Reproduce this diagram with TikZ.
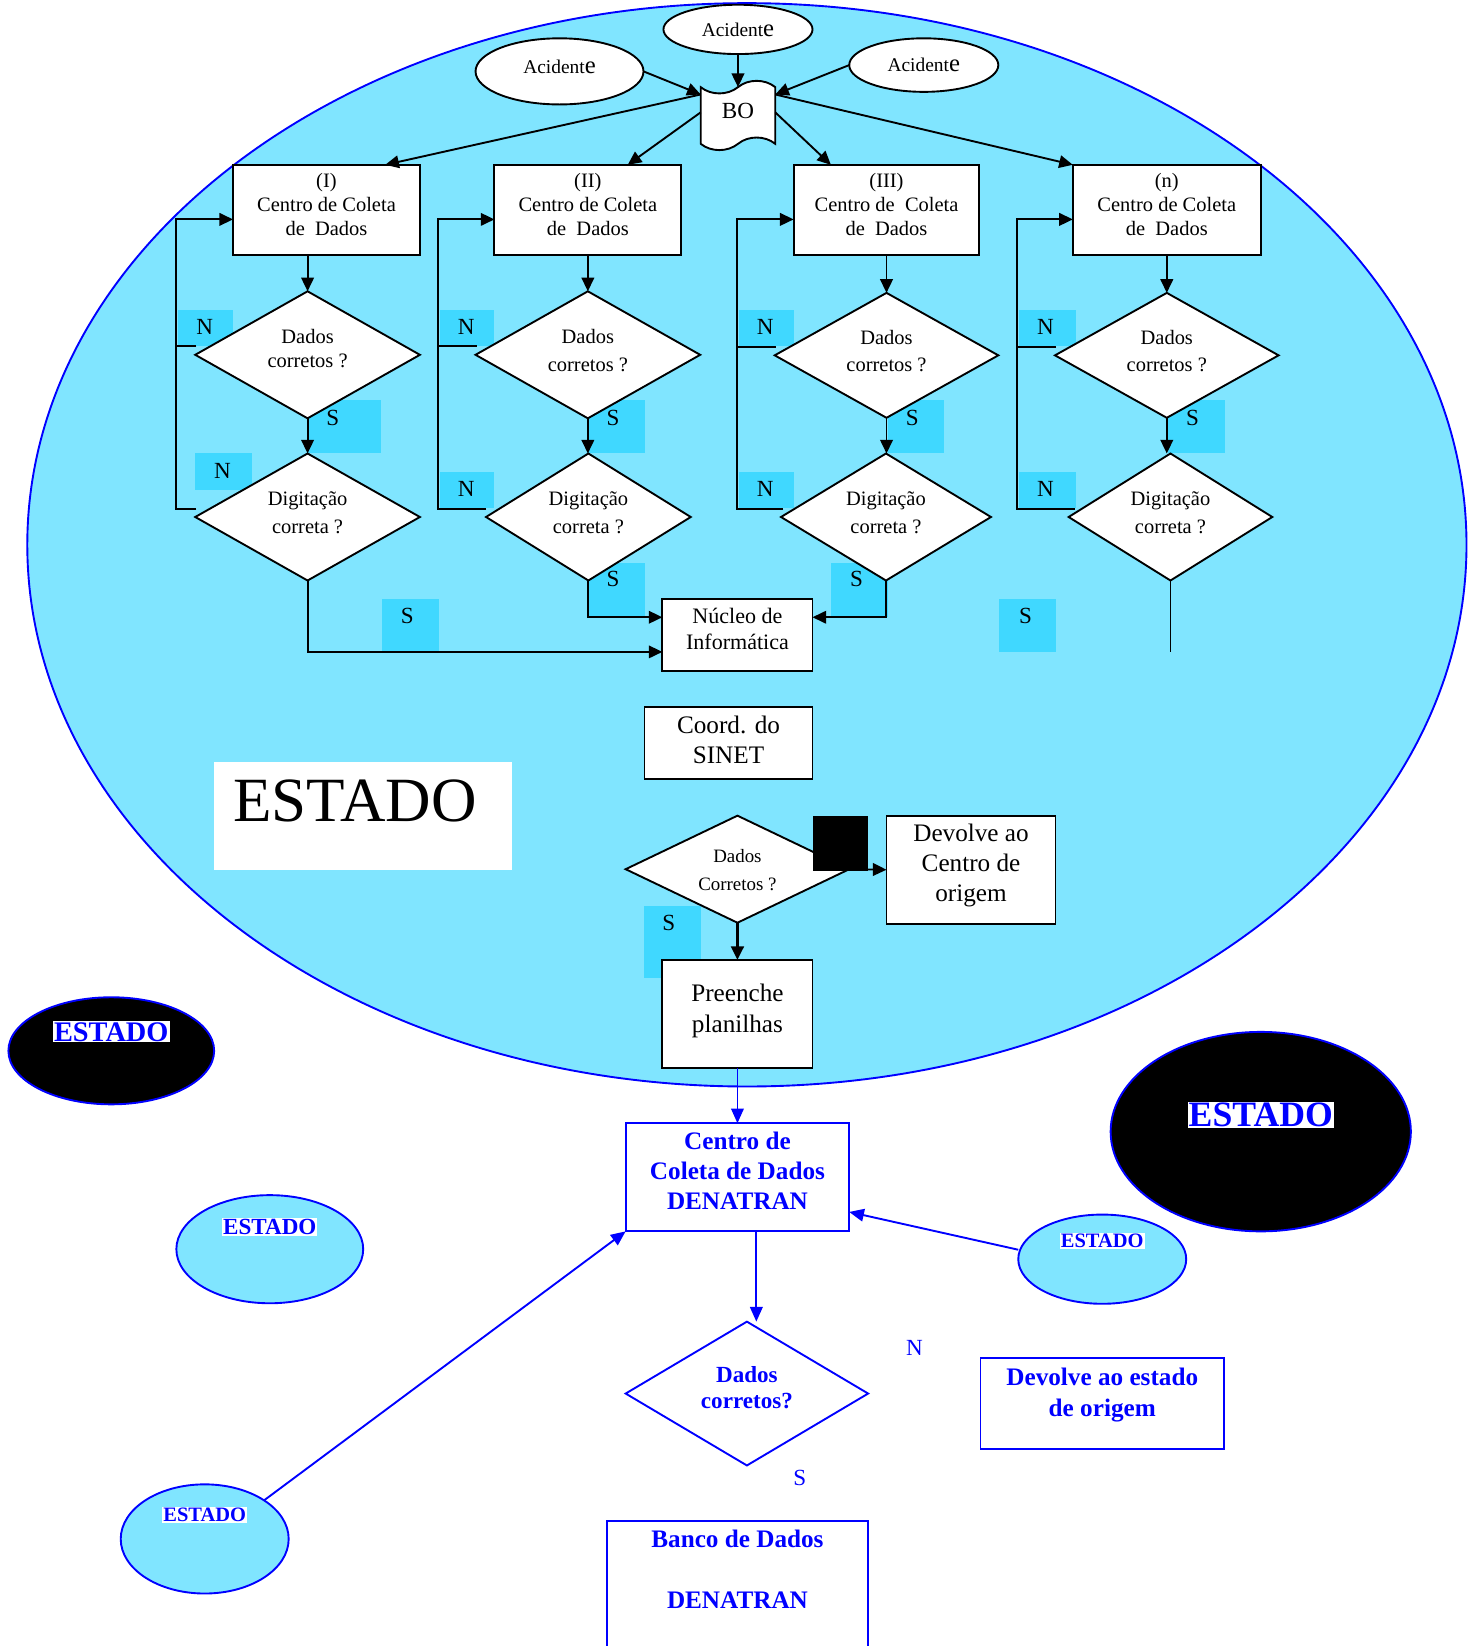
\documentclass[tikz,border=0pt]{standalone}
\usepackage{fontspec}
\setmainfont{Liberation Serif}
\usetikzlibrary{arrows.meta,shapes.geometric,shapes.symbols,calc}
\definecolor{lcyan}{RGB}{128,229,255}
\definecolor{dcyan}{RGB}{64,216,255}
\definecolor{pblue}{RGB}{0,0,255}
\pgfdeclarelayer{bgg}
\pgfdeclarelayer{bg}
\pgfsetlayers{bgg,bg,main}
\newcommand{\fs}[2]{\fontsize{#1}{#2}\selectfont}
\newcommand{\acidtxt}{\fs{18.5}{22}Acident{\fs{23.5}{23}e}}
% text node placed relative to a shape node: name, dy, font, text
\newcommand{\intext}[4]{\node[align=center, font=#3] (#1t) at ($(#1)+(0,#2)$) {#4};}
\begin{document}
\begin{tikzpicture}[x=1pt,y=-1pt,
  every node/.style={inner sep=0pt, outer sep=0pt},
  ln/.style={line width=1.8pt, draw=black},
  arr/.style={ln, -{Triangle[length=13pt,width=12pt]}},
  barr/.style={line width=1.8pt, draw=pblue, -{Triangle[length=14pt,width=12pt]}},
  wbox/.style={rectangle, draw=black, fill=white, line width=1.8pt},
  wdia/.style={diamond, aspect=1.8, draw=black, fill=white, line width=1.8pt},
  acc/.style={ellipse, draw=black, fill=white, line width=1.8pt},
  cyanbox/.style={rectangle, fill=dcyan, anchor=north west},
  lbl/.style={font=\fs{22}{22}},
  bbox/.style={rectangle, draw=pblue, line width=1.8pt, fill=white},
  estlbl/.style={fill=white, text=pblue, inner sep=1pt},
  cyanell/.style={ellipse, draw=pblue, fill=lcyan, line width=1.8pt},
  blkell/.style={ellipse, draw=pblue, fill=black, line width=1.8pt},
]
\useasboundingbox (0,0) rectangle (1407,1568);
\clip (0,0) rectangle (1407,1568);

\begin{pgfonlayer}{bgg}
\node[ellipse, draw=pblue, fill=lcyan, line width=1.8pt, minimum width=1371, minimum height=1032] (state) at (711.5,519) {};
\end{pgfonlayer}

\begin{pgfonlayer}{bg}
% column I
\node[cyanbox, minimum width=52, minimum height=35] (cn1a) at (170,295) {};
\node[cyanbox, minimum width=70, minimum height=51] (cs1a) at (293,381) {};
\node[cyanbox, minimum width=54, minimum height=35] (cn1b) at (186,432) {};
\node[cyanbox, minimum width=54, minimum height=50] (cs1b) at (364,571) {};
% column II
\node[cyanbox, minimum width=52, minimum height=35] (cn2a) at (419,295) {};
\node[cyanbox, minimum width=54, minimum height=51] (cs2a) at (560,381) {};
\node[cyanbox, minimum width=52, minimum height=34] (cn2b) at (419,450) {};
\node[cyanbox, minimum width=54, minimum height=52] (cs2b) at (560,536) {};
% column III
\node[cyanbox, minimum width=53, minimum height=35] (cn3a) at (703.5,295) {};
\node[cyanbox, minimum width=54, minimum height=51] (cs3a) at (845.5,381) {};
\node[cyanbox, minimum width=53, minimum height=34] (cn3b) at (703.5,450) {};
\node[cyanbox, minimum width=54, minimum height=52] (cs3b) at (791.6,536) {};
% column n
\node[cyanbox, minimum width=54, minimum height=35] (cn4a) at (970.6,295) {};
\node[cyanbox, minimum width=54, minimum height=51] (cs4a) at (1112.6,381) {};
\node[cyanbox, minimum width=54, minimum height=34] (cn4b) at (970.6,450) {};
\node[cyanbox, minimum width=54, minimum height=50] (cs4b) at (952,571) {};
% lower S
\node[cyanbox, minimum width=54, minimum height=69] (cs5) at (613.5,863) {};
\end{pgfonlayer}

% accidents and BO
\node[acc, minimum width=142, minimum height=47] (ac1) at (703,28) {};
\intext{ac1}{0}{}{\acidtxt}
\node[acc, minimum width=160, minimum height=63] (ac2) at (533,68) {};
\intext{ac2}{-4}{}{\acidtxt}
\node[acc, minimum width=142, minimum height=51] (ac3) at (880,62) {};
\intext{ac3}{0}{}{\acidtxt}
\node[tape, draw=black, fill=white, line width=1.8pt, minimum width=71, minimum height=66, tape bend height=12pt] (bo) at (703,110) {};
\intext{bo}{-4}{\fs{22}{22}}{BO}

% collection centres
\node[wbox, minimum width=178, minimum height=86] (b1) at (311,200) {};
\intext{b1}{-5.5}{\fs{19.5}{23}}{(I)\\Centro de Coleta\\de\ \ Dados}
\node[wbox, minimum width=178, minimum height=86] (b2) at (560,200) {};
\intext{b2}{-5.5}{\fs{19.5}{23}}{(II)\\Centro de Coleta\\de\ \ Dados}
\node[wbox, minimum width=177, minimum height=86] (b3) at (844.5,200) {};
\intext{b3}{-5.5}{\fs{19.5}{23}}{(III)\\Centro de\ \ Coleta\\de\ \ Dados}
\node[wbox, minimum width=179, minimum height=86] (b4) at (1111.5,200) {};
\intext{b4}{-5.5}{\fs{19.5}{23}}{(n)\\Centro de Coleta\\de\ \ Dados}

% decisions
\node[wdia, minimum width=214, minimum height=121] (d1a) at (293,338) {};
\intext{d1a}{-6}{\fs{19.5}{23}}{Dados\\corretos ?}
\node[wdia, minimum width=214, minimum height=121] (d1b) at (560,338) {};
\intext{d1b}{-4}{\fs{19.5}{26}}{Dados\\corretos ?}
\node[wdia, minimum width=213, minimum height=119] (d1c) at (844.5,338.5) {};
\intext{d1c}{-4}{\fs{19.5}{26}}{Dados\\corretos ?}
\node[wdia, minimum width=213, minimum height=119] (d1d) at (1111.5,338.5) {};
\intext{d1d}{-4}{\fs{19.5}{26}}{Dados\\corretos ?}
\node[wdia, minimum width=214, minimum height=121] (d2a) at (293,492.5) {};
\intext{d2a}{-4}{\fs{19.5}{26}}{Digitação\\correta ?}
\node[wdia, minimum width=195, minimum height=121] (d2b) at (560.5,492.5) {};
\intext{d2b}{-4}{\fs{19.5}{26}}{Digitação\\correta ?}
\node[wdia, minimum width=200, minimum height=121] (d2c) at (844,492.5) {};
\intext{d2c}{-4}{\fs{19.5}{26}}{Digitação\\correta ?}
\node[wdia, minimum width=194, minimum height=121] (d2d) at (1115,492.5) {};
\intext{d2d}{-4}{\fs{19.5}{26}}{Digitação\\correta ?}

% letters
\node[lbl] (tn1a) at (195,311) {N};
\node[lbl] (ts1a) at (317,398) {S};
\node[lbl] (tn1b) at (212,449) {N};
\node[lbl] (ts1b) at (388,587) {S};
\node[lbl] (tn2a) at (444,311) {N};
\node[lbl] (ts2a) at (584,398) {S};
\node[lbl] (tn2b) at (444,466) {N};
\node[lbl] (ts2b) at (584,552) {S};
\node[lbl] (tn3a) at (729,311) {N};
\node[lbl] (ts3a) at (869,398) {S};
\node[lbl] (tn3b) at (729,466) {N};
\node[lbl] (ts3b) at (816,552) {S};
\node[lbl] (tn4a) at (996,311) {N};
\node[lbl] (ts4a) at (1136,398) {S};
\node[lbl] (tn4b) at (996,466) {N};
\node[lbl] (ts4b) at (977,587) {S};
\node[lbl] (ts5) at (637,879) {S};

% centre boxes
\node[wbox, minimum width=143, minimum height=68] (nuc) at (702.5,605) {};
\intext{nuc}{-6}{\fs{21}{25}}{Núcleo de\\Informática}
\node[wbox, minimum width=160, minimum height=69] (sin) at (694,708) {};
\intext{sin}{-3}{\fs{24}{29}}{Coord. do\\SINET}
\node[rectangle, fill=white, minimum width=284, minimum height=103] (estbox) at (346,777.5) {};
\node[font=\fs{60}{60}] (esttxt) at (338,763) {ESTADO};
\node[wdia, minimum width=213, minimum height=102] (dc) at (702.5,828) {};
\intext{dc}{1}{\fs{18}{27}}{Dados\\Corretos ?}
\node[rectangle, fill=black, minimum width=53, minimum height=53, anchor=north west] (blk) at (774,777) {};
\node[wbox, minimum width=161, minimum height=103] (dv) at (925,828.5) {};
\intext{dv}{-4}{\fs{24}{28.5}}{Devolve ao\\Centro de\\origem}
\node[wbox, minimum width=143, minimum height=103] (pre) at (702.5,966) {};
\intext{pre}{-3}{\fs{24}{29}}{Preenche\\planilhas}

% national level
\node[bbox, minimum width=213, minimum height=103] (cd) at (702.5,1121.5) {};
\node[align=center, text=pblue, font=\bfseries\fs{24}{28.5}] (cdt) at ($(cd)+(0,-6.5)$) {Centro de\\Coleta de Dados\\DENATRAN};
\node[diamond, aspect=1.8, draw=pblue, fill=white, line width=1.8pt, minimum width=231, minimum height=137] (dd) at (711.5,1327.5) {};
\node[align=center, text=pblue, font=\bfseries\fs{22}{25}] (ddt) at ($(dd)+(0,-5.5)$) {Dados\\corretos?};
\node[bbox, minimum width=232, minimum height=86] (dev2) at (1050,1337) {};
\node[text=pblue, align=center, font=\bfseries\fs{24}{29}] (dev2t) at ($(dev2)+(0,-8)$) {Devolve ao estado\\de origem};
\node[bbox, minimum width=249, minimum height=200, anchor=north] (banco) at (702.5,1449) {};
\node[text=pblue, align=center, font=\bfseries\fs{24}{29}] (bancot) at ($(banco.north)+(0,46)$) {Banco de Dados\\[29pt]DENATRAN};
\node[text=pblue, font=\fs{22}{22}] (bn) at (871,1284) {N};
\node[text=pblue, font=\fs{22}{22}] (bs) at (762,1408) {S};

% states
\node[blkell, minimum width=196, minimum height=102] (eb1) at (106,1001) {};
\node[estlbl, font=\bfseries\fs{27}{27}] (eb1t) at ($(eb1)+(0,-18)$) {ESTADO};
\node[blkell, minimum width=286, minimum height=190] (eb2) at (1201,1078) {};
\node[estlbl, font=\bfseries\fs{34}{34}] (eb2t) at ($(eb2)+(0,-16)$) {ESTADO};
\node[cyanell, minimum width=178, minimum height=103] (ec1) at (257,1190) {};
\node[estlbl, font=\bfseries\fs{22}{22}] (ec1t) at ($(ec1)+(0,-21)$) {ESTADO};
\node[cyanell, minimum width=160, minimum height=85] (ec2) at (1050,1199.5) {};
\node[estlbl, font=\bfseries\fs{19.5}{20}] (ec2t) at ($(ec2)+(0,-17.5)$) {ESTADO};
\node[cyanell, minimum width=160, minimum height=104] (ec3) at (195,1466) {};
\node[estlbl, font=\bfseries\fs{19.5}{20}] (ec3t) at ($(ec3)+(0,-23)$) {ESTADO};

% ---- connectors ----
\draw[arr] (ac1.south) -- (bo.north);
\draw[arr] (ac2.east) -- ($(bo.west)+(0,-20)$);
\draw[arr] (ac3.west) -- ($(bo.east)+(0,-20)$);
\draw[arr] ($(bo.west)+(0,-20)$) -- ($(b1.north)+(56,0)$);
\draw[arr] ($(bo.west)+(0,-3)$) -- ($(b2.north)+(38,0)$);
\draw[arr] ($(bo.east)+(0,-3)$) -- ($(b3.north)+(-53,0)$);
\draw[arr] ($(bo.east)+(0,-20)$) -- (b4.north west);

\draw[arr] (b1.south -| d1a.north) -- (d1a.north);
\draw[arr] (b2.south) -- (d1b.north);
\draw[arr] (b3.south) -- (d1c.north);
\draw[arr] (b4.south) -- (d1d.north);
\draw[arr] (d1a.south) -- (d2a.north);
\draw[arr] (d1b.south) -- (d1b.south |- d2b.north);
\draw[arr] (d1c.south) -- (d1c.south |- d2c.north);
\draw[arr] (d1d.south) -- (d1d.south |- d2d.north);

% N loops
\draw[ln] ($(d1a.west)+(1,-8)$) -- ++(-19,0);
\draw[arr] ($(d2a.west)+(1,-8)$) -- ++(-19,0) |- ($(b1.west)+(0,9)$);
\draw[ln] ($(d1b.west)+(1,-8)$) -- ++(-37,0);
\draw[arr] ($(d2b.west)+(0,-8)$) -- ++(-46,0) |- ($(b2.west)+(0,9)$);
\draw[ln] ($(d1c.west)+(1,-8)$) -- ++(-37,0);
\draw[arr] ($(d2c.west)+(2,-8)$) -- ++(-44,0) |- ($(b3.west)+(0,9)$);
\draw[ln] ($(d1d.west)+(1,-8)$) -- ++(-37,0);
\draw[arr] ($(d2d.west)+(6,-8)$) -- ++(-55,0) |- ($(b4.west)+(0,9)$);

% S flows
\draw[arr] (d2a.south) |- ($(nuc.west)+(0,16)$);
\draw[arr] (d2b.south) |- ($(nuc.west)+(0,-17)$);
\draw[arr] (d2c.south) |- ($(nuc.east)+(0,-17)$);
\draw[ln] (d2d.south) -- ++(0,68);

\draw[arr] (dc.east) -- (dv.west);
\draw[ln, line width=2.8pt, -{Triangle[length=13pt,width=12pt]}] (dc.south) -- (pre.north);
\draw[barr] (pre.south) -- (cd.north);
\coordinate (cdo) at ($(cd.south)+(18,0)$);
\draw[barr] (cdo) -- (cdo |- dd.north);
\draw[barr] (ec3.north east) -- (cd.south west);
\draw[barr] ($(ec2.west)+(0,-9)$) -- ($(cd.east)+(0,33)$);
\end{tikzpicture}
\end{document}
